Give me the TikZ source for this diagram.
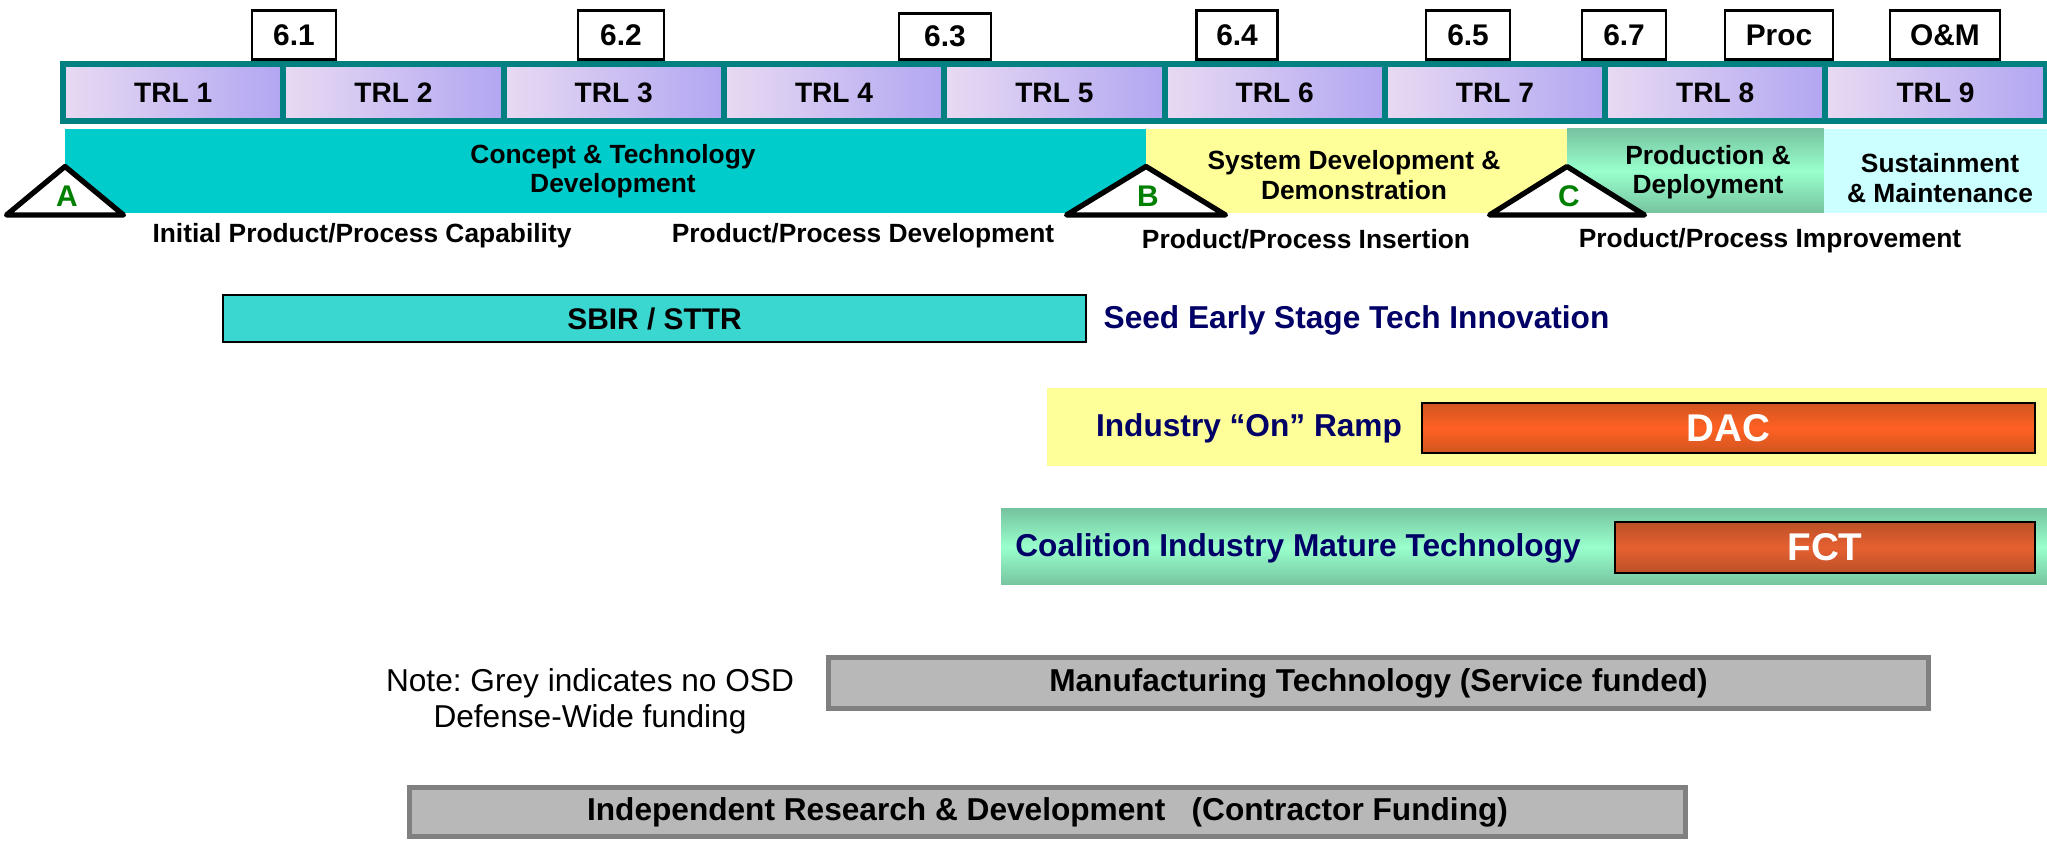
\documentclass[tikz,border=0pt]{standalone}
\usepackage{fontspec}
\setmainfont{Liberation Sans}
\usepackage{xcolor}
\usepackage{tikz}
\usetikzlibrary{positioning}
\definecolor{trlteal}{RGB}{0, 128, 128}
\definecolor{trllight}{RGB}{232, 218, 242}
\definecolor{trldark}{RGB}{178, 166, 242}
\definecolor{conceptcyan}{RGB}{0, 204, 204}
\definecolor{sddyellow}{RGB}{255, 255, 153}
\definecolor{pdgreen}{RGB}{153, 255, 204}
\definecolor{pdgreendark}{RGB}{118, 196, 160}
\definecolor{sustcyan}{RGB}{204, 255, 255}
\definecolor{sbirturq}{RGB}{58, 214, 208}
\definecolor{progblue}{RGB}{0, 0, 102}
\definecolor{dacorange}{RGB}{255, 96, 34}
\definecolor{dacdark}{RGB}{208, 86, 32}
\definecolor{fctorange}{RGB}{230, 96, 48}
\definecolor{fctdark}{RGB}{188, 80, 40}
\definecolor{mantgrey}{RGB}{184, 184, 184}
\definecolor{mantedge}{RGB}{128, 128, 128}
\definecolor{msgreen}{RGB}{0, 128, 0}

\begin{document}
\begin{tikzpicture}[
        trl/.style={rectangle, draw=trlteal, line width=0.06cm, left color=trllight, right color=trldark,
            minimum width=2.203cm, minimum height=0.57cm, inner sep=0pt, font=\fontsize{8}{9}\selectfont\bfseries},
        budget/.style={rectangle, draw, line width=0.8pt, fill=white, anchor=south, minimum height=0.49cm,
            inner sep=0pt, font=\fontsize{8.5}{9}\selectfont\bfseries},
        phase/.style={rectangle, inner sep=0pt, minimum height=0.84cm},
        phasetext/.style={align=center, font=\fontsize{7.5}{8.4}\selectfont\bfseries},
        milestone/.style={draw, line width=1.5pt, line join=round, fill=white},
        mslabel/.style={text=msgreen, font=\fontsize{8.5}{9}\selectfont\bfseries},
        activity/.style={font=\fontsize{7.5}{9}\selectfont\bfseries},
        program/.style={text=progblue, font=\fontsize{9}{10}\selectfont\bfseries},
        fundbox/.style={rectangle, draw, line width=0.8pt, inner sep=0pt, text=white,
            font=\fontsize{11}{12}\selectfont\bfseries},
        greybox/.style={rectangle, draw=mantedge, line width=1.5pt, fill=mantgrey, inner sep=0pt,
            font=\fontsize{9}{10}\selectfont\bfseries}
    ]
        \useasboundingbox (0,0) rectangle (20.47,8.40);

        % TRL scale
        \foreach \i in {1,...,9}
            \node[trl] (trl\i) at ({0.63+2.203*(\i-0.5)},7.475) {TRL \i};

        % budget activities
        \foreach \name/\x/\w [count=\k] in {6.1/2.94/0.84, 6.2/6.21/0.86, 6.4/12.37/0.81,
                6.5/14.68/0.84, 6.7/16.24/0.84, Proc/17.79/1.08, O\&M/19.45/1.10}
            \node[budget, minimum width=\w cm] (ba\k) at (\x,7.79) {\name};
        \node[budget, minimum width=0.92cm, minimum height=0.46cm] (ba63) at (9.45,7.79) {6.3};

        % acquisition phases
        \node[phase, fill=conceptcyan, minimum width=10.81cm] (ctd) at (6.055,6.69) {};
        \node[phase, fill=sddyellow, minimum width=4.21cm] (sdd) at (13.565,6.69) {};
        \node[phase, top color=pdgreendark, bottom color=pdgreendark, middle color=pdgreen,
            minimum width=2.57cm] (pd) at (16.955,6.69) {};
        \node[phase, fill=sustcyan, minimum width=2.23cm] (sm) at (19.355,6.69) {};
        \node[phasetext] (ctdlbl) at (6.13,6.69) {Concept \& Technology\\Development};
        \node[phasetext] (sddlbl) at (13.54,6.65) {System Development \&\\Demonstration};
        \node[phasetext] (pdlbl) at (17.08,6.68) {Production \&\\Deployment};
        \node[phasetext] (smlbl) at (19.40,6.62) {Sustainment\\\& Maintenance};

        % milestones
        \foreach \m/\x/\h in {A/0.65/0.585, B/11.46/0.795, C/15.67/0.775} {
            \draw[milestone] (\x-\h,6.25) -- (\x,6.735) -- (\x+\h,6.25) -- cycle;
            \node[mslabel] (ms\m) at (\x+0.02,6.44) {\m};
        }

        % product/process activities
        \node[activity] (ipc) at (3.62,6.04) {Initial Product/Process Capability};
        \node[activity] (ppd) at (8.63,6.04) {Product/Process Development};
        \node[activity] (ppi) at (13.06,6.01) {Product/Process Insertion};
        \node[activity] (ppimp) at (17.70,5.99) {Product/Process Improvement};

        % SBIR / STTR
        \node[rectangle, draw, line width=0.8pt, fill=sbirturq, minimum width=8.63cm, minimum height=0.47cm,
            inner sep=0pt, font=\fontsize{8.5}{9}\selectfont\bfseries] (sbir) at (6.545,5.215) {SBIR / STTR};
        \node[program, anchor=west, inner sep=0pt] (seed) at (11.03,5.20) {Seed Early Stage Tech Innovation};

        % industry on ramp
        \node[rectangle, fill=sddyellow, minimum width=10.0cm, minimum height=0.78cm] (ramp) at (15.47,4.13) {};
        \node[program] (ramplbl) at (12.49,4.12) {Industry “On” Ramp};
        \node[fundbox, top color=dacdark, bottom color=dacdark, middle color=dacorange,
            minimum width=6.13cm, minimum height=0.50cm] (dac) at (17.285,4.12) {DAC};

        % coalition
        \node[rectangle, top color=pdgreendark, bottom color=pdgreendark, middle color=pdgreen,
            minimum width=10.46cm, minimum height=0.76cm] (cimt) at (15.24,2.93) {};
        \node[program] (cimtlbl) at (12.98,2.92) {Coalition Industry Mature Technology};
        \node[fundbox, top color=fctdark, bottom color=fctdark, middle color=fctorange,
            minimum width=4.20cm, minimum height=0.51cm] (fct) at (18.25,2.925) {FCT};

        % service and contractor funding
        \node[align=center, font=\fontsize{9}{10.3}\selectfont] (note) at (5.90,1.39)
            {Note:\ Grey indicates no OSD\\Defense-Wide funding};
        \node[greybox, minimum width=11.0cm, minimum height=0.51cm] (mantech) at (13.785,1.57)
            {Manufacturing Technology (Service funded)};
        \node[greybox, minimum width=12.76cm, minimum height=0.49cm] (ird) at (10.475,0.28)
            {Independent Research \& Development \ \ (Contractor Funding)};
    \end{tikzpicture}
\end{document}
